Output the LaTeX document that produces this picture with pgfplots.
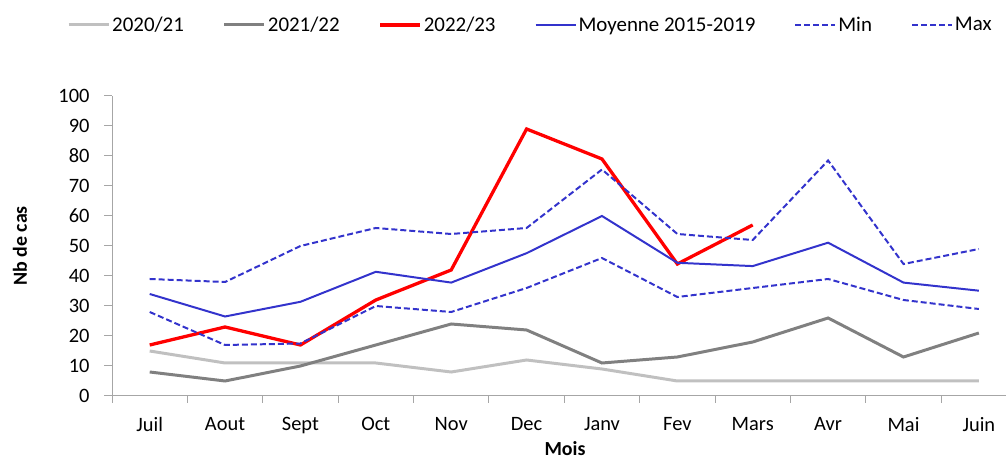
\documentclass[border=0pt]{standalone}
\usepackage{pgfplots}
\pgfplotsset{compat=1.18}
\usepackage{fontspec}
\setmainfont{Carlito}
\definecolor{lgray}{HTML}{C0C0C0}
\definecolor{dgray}{HTML}{808080}
\definecolor{mblue}{HTML}{3333CC}
\definecolor{axgray}{HTML}{A6A6A6}
\begin{document}
\begin{tikzpicture}[x=1bp,y=1bp]
\path[use as bounding box] (0,0) rectangle (1006,462);
\begin{axis}[
  at={(112bp,66bp)}, anchor=south west,
  scale only axis, width=894bp, height=300bp,
  xmin=-0.5, xmax=11.36, ymin=0, ymax=100,
  axis x line=bottom, axis y line=left,
  axis line style={axgray, line width=1pt, -},
  xtick={0,...,11},
  xticklabels={Juil,Aout,Sept,Oct,Nov,Dec,Janv,Fev,Mars,Avr,Mai,Juin},
  minor xtick={-0.5,0.5,...,10.5},
  major x tick style={draw=none},
  minor x tick style={axgray, line width=1pt},
  ytick={0,10,...,100},
  major y tick style={axgray, line width=1pt},
  tick align=outside,
  major tick length=8bp, minor tick length=7bp,
  tick label style={font=\fontsize{20.5}{22}\selectfont, black},
  xticklabel style={yshift=-10bp},
  yticklabel style={xshift=-11bp},
  /pgf/number format/assume math mode=true,
  xlabel={\textbf{Mois}},
  ylabel={\textbf{Nb de cas}},
  xlabel style={at={(axis description cs:0.5067,-0.176)}, anchor=center, inner sep=0pt},
  ylabel style={at={(axis description cs:-0.1029,0.5)}, anchor=center, rotate=0},
  label style={font=\fontsize{20}{22}\selectfont},
  legend columns=6,
  legend style={draw=none, at={(-0.0503,1.2367)}, anchor=west, inner sep=0pt,
    font=\fontsize{21}{22}\selectfont,
    /tikz/every odd column/.append style={column sep=0bp},
    /tikz/every even column/.append style={column sep=37bp}},
  legend image code/.code={\draw[#1] (0bp,0bp) -- (40bp,0bp);},
  clip=false,
]
\addplot[lgray, line width=3pt] coordinates {(0,15)(1,11)(2,11)(3,11)(4,8)(5,12)(6,9)(7,5)(8,5)(9,5)(10,5)(11,5)};
\addlegendentry{2020/21}
\addplot[dgray, line width=3pt] coordinates {(0,8)(1,5)(2,10)(3,17)(4,24)(5,22)(6,11)(7,13)(8,18)(9,26)(10,13)(11,21)};
\addlegendentry{2021/22}
\addplot[red, line width=3.3pt] coordinates {(0,17)(1,23)(2,17)(3,32)(4,42)(5,89)(6,79)(7,44)(8,57)};
\addlegendentry{2022/23}
\addplot[mblue, line width=2pt] coordinates {(0,34)(1,26.5)(2,31.4)(3,41.4)(4,37.8)(5,47.6)(6,60)(7,44.4)(8,43.3)(9,51.1)(10,37.8)(11,35.1)};
\addlegendentry{Moyenne 2015-2019}
\addplot[mblue, line width=2pt, dash pattern=on 6bp off 3bp] coordinates {(0,28)(1,17)(2,17.5)(3,30)(4,28)(5,36)(6,46)(7,33)(8,36)(9,39)(10,32)(11,29)};
\addlegendentry{Min}
\addplot[mblue, line width=2pt, dash pattern=on 6bp off 3bp] coordinates {(0,39)(1,38)(2,50)(3,56)(4,54)(5,56)(6,75.5)(7,54)(8,52)(9,78.5)(10,44)(11,49)};
\addlegendentry{Max}
\end{axis}
\end{tikzpicture}
\end{document}
